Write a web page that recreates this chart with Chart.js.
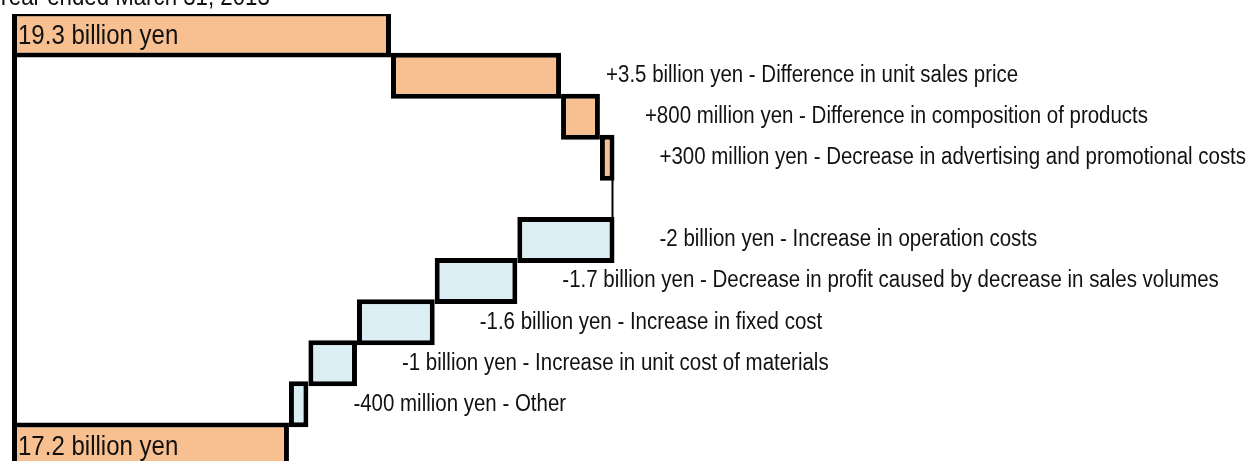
<!DOCTYPE html>
<html>
<head>
<meta charset="utf-8">
<script src="https://cdn.jsdelivr.net/npm/chart.js@4.4.0/dist/chart.umd.min.js"></script>
<style>
    html, body { margin: 0; padding: 0; background: #fff; overflow: hidden; }
    #wrap { position: relative; width: 1251px; height: 470px; }
</style>
</head>
<body>
<div id="wrap"><canvas id="bridgeChart"></canvas></div>
<script>

const titleText = "Year ended March 31, 2013";

const categories = [
    "19.3 billion yen",
    "+3.5 billion yen - Difference in unit sales price",
    "+800 million yen - Difference in composition of products",
    "+300 million yen - Decrease in advertising and promotional costs",
    "",
    "-2 billion yen - Increase in operation costs",
    "-1.7 billion yen - Decrease in profit caused by decrease in sales volumes",
    "-1.6 billion yen - Increase in fixed cost",
    "-1 billion yen - Increase in unit cost of materials",
    "-400 million yen - Other",
    "17.2 billion yen"
];

// billion yen; null = total row or connector row
const changes = [null, 3.5, 0.8, 0.3, null, -2, -1.7, -1.6, -1, -0.4, null];

const startValue = 19.3;
const endValue = 17.2;

const axisMin = 11.5;
const axisMax = 37;

const ORANGE = "#f8c090";
const BLUE = "#daeef3";
const LABEL_FONT = '"Liberation Sans", Arial, sans-serif';
const NARROW = 0.89;   // squeeze to look like Arial Narrow

// build floating bars from the running total
const bars = [];
const colors = [];
let running = startValue;

categories.forEach((c, i) => {
    if (i === 0) {
        bars.push([axisMin, startValue]);
        colors.push(ORANGE);
    } else if (i === categories.length - 1) {
        bars.push([axisMin, endValue]);
        colors.push(ORANGE);
    } else if (changes[i] === null) {
        bars.push(null);
        colors.push(ORANGE);
    } else {
        bars.push([running, running + changes[i]]);
        colors.push(changes[i] >= 0 ? ORANGE : BLUE);
        running += changes[i];
    }
});

function narrowText(ctx, text, x, y) {
    ctx.save();
    ctx.translate(x, y);
    ctx.scale(NARROW, 1);
    ctx.fillText(text, 0, 0);
    ctx.restore();
}

const bridgeDecor = {
    id: "bridgeDecor",
    afterDatasetsDraw(chart) {
        const ctx = chart.ctx;
        const xs = chart.scales.x;
        const ys = chart.scales.y;
        const area = chart.chartArea;
        const rowH = (area.bottom - area.top) / categories.length;

        ctx.save();

        // left edge line
        ctx.strokeStyle = "#000";
        ctx.lineWidth = 5;
        const left = xs.getPixelForValue(axisMin) + 2.5;
        ctx.beginPath();
        ctx.moveTo(left, area.top);
        ctx.lineTo(left, area.bottom);
        ctx.stroke();

        // thin connector across empty rows
        ctx.lineWidth = 2;
        bars.forEach((b, i) => {
            if (b !== null) return;
            const prev = bars[i - 1];
            const px = xs.getPixelForValue(prev[1]) - 2;
            const yc = ys.getPixelForValue(i);
            ctx.beginPath();
            ctx.moveTo(px, yc - rowH / 2);
            ctx.lineTo(px, yc + rowH / 2);
            ctx.stroke();
        });

        // labels
        ctx.fillStyle = "#111";
        ctx.textBaseline = "middle";
        ctx.textAlign = "left";
        bars.forEach((b, i) => {
            if (b === null) return;
            const yc = ys.getPixelForValue(i);
            if (i === 0 || i === bars.length - 1) {
                ctx.font = "27px " + LABEL_FONT;
                narrowText(ctx, categories[i], xs.getPixelForValue(axisMin) + 6, yc + 2);
            } else {
                ctx.font = "23px " + LABEL_FONT;
                const end = Math.max(b[0], b[1]);
                narrowText(ctx, categories[i], xs.getPixelForValue(end) + 45, yc);
            }
        });

        // title, cut off by the top edge
        ctx.font = "25px " + LABEL_FONT;
        ctx.textBaseline = "alphabetic";
        narrowText(ctx, titleText, -4, 5);

        ctx.restore();
    }
};

new Chart(document.getElementById("bridgeChart"), {
    type: "bar",
    data: {
        labels: categories,
        datasets: [{
            data: bars,
            backgroundColor: colors,
            borderColor: "#000",
            borderWidth: 5,
            borderSkipped: false,
            barPercentage: 1.12,
            categoryPercentage: 1
        }]
    },
    options: {
        indexAxis: "y",
        responsive: true,
        maintainAspectRatio: false,
        animation: false,
        layout: {
            padding: { top: 14, bottom: 4, left: 12, right: 0 }
        },
        plugins: {
            legend: { display: false },
            tooltip: { enabled: false }
        },
        scales: {
            x: { display: false, min: axisMin, max: axisMax },
            y: { display: false }
        }
    },
    plugins: [bridgeDecor]
});

</script>
</body>
</html>
